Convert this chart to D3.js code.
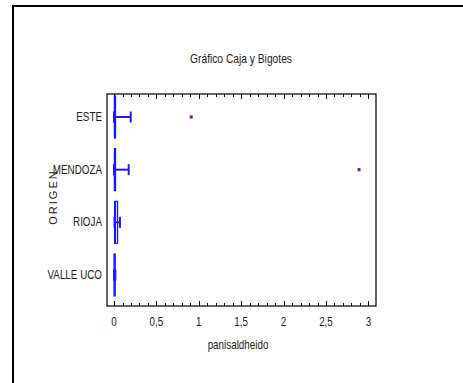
<!DOCTYPE html>
<html>
<head>
<meta charset="utf-8">
<script src="https://cdn.jsdelivr.net/npm/d3@7"></script>
<style>
  body { margin: 0; background: #fff; }
  text { font-family: "Liberation Sans", Arial, sans-serif; fill: #222; }
</style>
</head>
<body>
<div id="chart"></div>
<script>
// values
var categories = ["ESTE", "MENDOZA", "RIOJA", "VALLE UCO"];
var mins    = [0.000, 0.000, 0.006, 0.000];
var q1s     = [0.004, 0.004, 0.006, 0.002];
var medians = [0.010, 0.010, 0.014, 0.005];
var q3s     = [0.018, 0.018, 0.042, 0.012];
var maxs    = [0.197, 0.173, 0.070, 0.016];
var means   = [0.010, 0.010, 0.030, 0.005];
var outlierCats = ["ESTE", "MENDOZA"];
var outlierVals = [0.91, 2.89];
var xTicks = [0, 0.5, 1, 1.5, 2, 2.5, 3];
var xTickLabels = ["0", "0,5", "1", "1,5", "2", "2,5", "3"];

var W = 463, H = 383;
var plot = {left: 107, top: 94, right: 376, bottom: 306};
var narrow = 0.82;   // the source uses a condensed face

var svg = d3.select("#chart").append("svg")
  .attr("width", W)
  .attr("height", H);

// narrow text helper: position by transform, squeeze horizontally
function label(px, py, txt, size, anchor){
  return svg.append("text")
    .attr("transform", "translate(" + px + "," + py + ") scale(" + narrow + ",1)")
    .attr("text-anchor", anchor || "middle")
    .style("font-size", size + "px")
    .text(txt);
}

// outer frame (runs off right / bottom)
svg.append("path")
  .attr("d", "M13," + (H + 5) + "V6H" + (W + 5))
  .attr("fill", "none")
  .attr("stroke", "#000")
  .attr("stroke-width", 2);

var x = d3.scaleLinear()
  .domain([-0.083, 3.09])
  .range([plot.left, plot.right]);

var y = d3.scalePoint()
  .domain(categories)
  .range([117, 275]);

// title
label(241, 63, "Gráfico Caja y Bigotes", 12.5);

// plot frame
svg.append("rect")
  .attr("x", plot.left)
  .attr("y", plot.top)
  .attr("width", plot.right - plot.left)
  .attr("height", plot.bottom - plot.top)
  .attr("fill", "none")
  .attr("stroke", "#000")
  .attr("stroke-width", 1.2);

// minor + major ticks, bottom (up) and top (down)
var minor = d3.range(0, 31).map(function(i){ return i / 10; });
var tickG = svg.append("g").attr("stroke", "#000").attr("stroke-width", 1);
minor.forEach(function(t){
  var len = (Math.round(t * 10) % 5 === 0) ? 5 : 3;
  var tx = Math.round(x(t)) + 0.5;
  tickG.append("line")
    .attr("x1", tx).attr("x2", tx)
    .attr("y1", plot.bottom).attr("y2", plot.bottom - len);
  tickG.append("line")
    .attr("x1", tx).attr("x2", tx)
    .attr("y1", plot.top).attr("y2", plot.top + len);
});

// tick labels
xTicks.forEach(function(t, i){
  label(x(t), 326, xTickLabels[i], 12);
});

// x axis label
label(238, 349, "panisaldheido", 12);

// category labels
categories.forEach(function(c){
  label(102, y(c) + 4, c, 12, "end");
});

// y axis label
svg.append("text")
  .attr("transform", "translate(57,197) rotate(-90)")
  .attr("text-anchor", "middle")
  .style("font-size", "11px")
  .style("letter-spacing", "2px")
  .text("ORIGEN");

// boxes
var boxH = 42, capH = 11;
var blue = "#1a1aff";
var boxes = svg.append("g");
categories.forEach(function(c, i){
  var cy = y(c);
  // whiskers
  boxes.append("line")
    .attr("x1", x(q3s[i])).attr("x2", x(maxs[i]))
    .attr("y1", cy).attr("y2", cy)
    .attr("stroke", blue).attr("stroke-width", 2);
  boxes.append("line")
    .attr("x1", x(mins[i])).attr("x2", x(q1s[i]))
    .attr("y1", cy).attr("y2", cy)
    .attr("stroke", blue).attr("stroke-width", 2);
  boxes.append("line")
    .attr("x1", x(maxs[i])).attr("x2", x(maxs[i]))
    .attr("y1", cy - capH / 2).attr("y2", cy + capH / 2)
    .attr("stroke", blue).attr("stroke-width", 2);
  boxes.append("line")
    .attr("x1", x(mins[i])).attr("x2", x(mins[i]))
    .attr("y1", cy - capH / 2).attr("y2", cy + capH / 2)
    .attr("stroke", blue).attr("stroke-width", 2);
  // box
  boxes.append("rect")
    .attr("x", x(q1s[i]))
    .attr("y", cy - boxH / 2)
    .attr("width", Math.max(1, x(q3s[i]) - x(q1s[i])))
    .attr("height", boxH)
    .attr("fill", "#d6d6ff")
    .attr("stroke", blue)
    .attr("stroke-width", 1.2);
  // mean (drawn under the median line)
  boxes.append("rect")
    .attr("x", x(means[i]) - 0.75).attr("y", cy - 1)
    .attr("width", 1.5).attr("height", 2)
    .attr("fill", "#e00000");
  // median
  boxes.append("line")
    .attr("x1", x(medians[i])).attr("x2", x(medians[i]))
    .attr("y1", cy - boxH / 2).attr("y2", cy + boxH / 2)
    .attr("stroke", blue).attr("stroke-width", 1.5);
});

// outliers
outlierCats.forEach(function(c, i){
  var px = x(outlierVals[i]), py = y(c);
  svg.append("rect")
    .attr("x", px - 1.5).attr("y", py - 1.5)
    .attr("width", 3).attr("height", 3)
    .attr("fill", "#3030ff");
  svg.append("rect")
    .attr("x", px - 0.5).attr("y", py - 1.5)
    .attr("width", 1.5).attr("height", 3)
    .attr("fill", "#d00030");
});
</script>
</body>
</html>
